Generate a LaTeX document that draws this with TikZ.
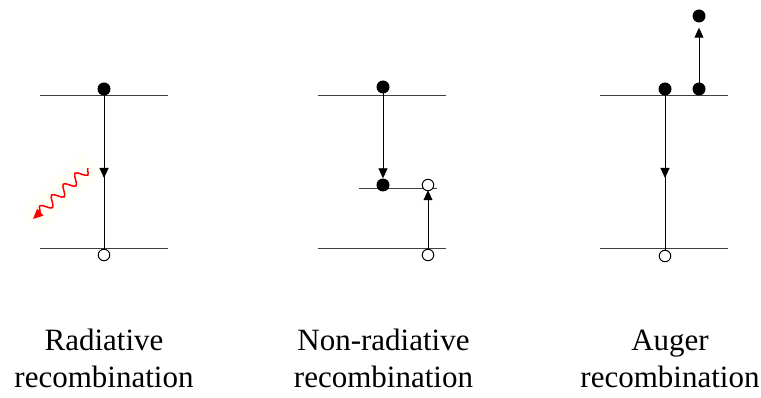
\documentclass[tikz,border=0pt]{standalone}
\usepackage{fontspec}
\setmainfont{Liberation Serif}
\usetikzlibrary{arrows.meta,decorations.pathmorphing,backgrounds}
\begin{document}
\begin{tikzpicture}[x=1pt,y=-1pt,
  level/.style={draw=black!75, line width=1pt},
  elec/.style={circle, fill=black, inner sep=0pt, minimum size=13pt},
  hole/.style={circle, draw=black, fill=white, line width=1pt, inner sep=0pt, minimum size=11.5pt},
  vline/.style={line width=0.9pt},
  trans/.style={line width=0.9pt, -{Triangle[length=10pt,width=9pt]}},
  photon/.style={red, line width=1.5pt, decorate,
    decoration={snake, amplitude=5pt, segment length=16pt, post length=8pt},
    -{Triangle[length=10pt,width=9pt]}},
  lbl/.style={font=\fontsize{31}{37}\selectfont, anchor=base, inner sep=0pt},
]
\useasboundingbox (0,0) rectangle (761,398);

% ---------- panel 1: radiative ----------
\coordinate (a1l) at (40,96);  \coordinate (a1r) at (168,96);
\coordinate (b1l) at (40,249); \coordinate (b1r) at (168,249);
\node[elec] (e1) at (104,89) {};
\node[hole] (h1) at (104,255) {};
\coordinate (m1) at (104,178);
\node[fill=yellow!3, inner sep=0pt, minimum width=86pt, minimum height=30pt, rotate=44] (glow) at (61,193) {};
\coordinate (w1) at (88,168);
\coordinate (w2) at (33,219);
\begin{scope}[on background layer]
  \draw[level] (a1l) -- (a1r);
  \draw[level] (b1l) -- (b1r);
  \draw[vline] (e1.center) -- (h1.center);
  \draw[trans] (e1.center) -- (m1);
\end{scope}
\draw[photon] (w1) -- (w2);
\node[lbl] (t1a) at (104,350) {Radiative};
\node[lbl] (t1b) at (104,388) {recombination};

% ---------- panel 2: non-radiative ----------
\coordinate (a2l) at (318,96);  \coordinate (a2r) at (446,96);
\coordinate (c2l) at (359,189); \coordinate (c2r) at (437,189);
\coordinate (b2l) at (318,249); \coordinate (b2r) at (446,249);
\node[elec] (e2) at (383,87) {};
\node[elec] (e2t) at (383,185) {};
\node[hole] (h2t) at (428,185) {};
\node[hole] (h2) at (428,255) {};
\begin{scope}[on background layer]
  \draw[level] (a2l) -- (a2r);
  \draw[level] (c2l) -- (c2r);
  \draw[level] (b2l) -- (b2r);
  \draw[trans] (e2.center) -- (e2t.north);
  \draw[trans] (h2.center) -- ([yshift=1pt]h2t.south);
\end{scope}
\node[lbl] (t2a) at (383.5,350) {Non-radiative};
\node[lbl] (t2b) at (383.5,388) {recombination};

% ---------- panel 3: Auger ----------
\coordinate (a3l) at (600,96);  \coordinate (a3r) at (728,96);
\coordinate (b3l) at (600,249); \coordinate (b3r) at (728,249);
\node[elec] (e3) at (665,89) {};
\node[elec] (e3b) at (699,89) {};
\node[elec] (e3u) at (699,16) {};
\node[hole] (h3) at (665,256) {};
\coordinate (m3) at (665,178);
\begin{scope}[on background layer]
  \draw[level] (a3l) -- (a3r);
  \draw[level] (b3l) -- (b3r);
  \draw[vline] (e3.center) -- (h3.center);
  \draw[trans] (e3.center) -- (m3);
  \draw[trans, shorten >=5pt] (e3b.center) -- (e3u.south);
\end{scope}
\node[lbl] (t3a) at (670,350) {Auger};
\node[lbl] (t3b) at (670,388) {recombination};
\end{tikzpicture}
\end{document}
